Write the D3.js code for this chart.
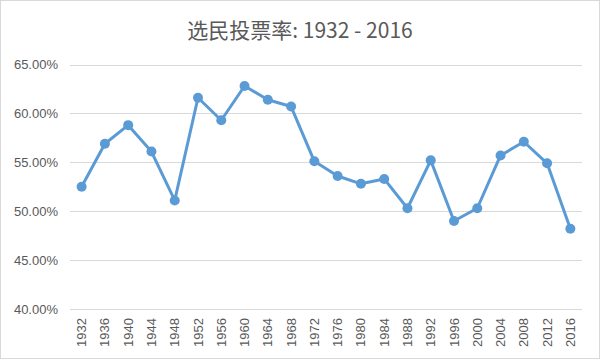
<!DOCTYPE html>
<html><head><meta charset="utf-8">
<script src="https://cdn.jsdelivr.net/npm/d3@7"></script>
<style>body{margin:0;background:#fff}svg{display:block}</style>
</head><body>
<script>
const years = ["1932","1936","1940","1944","1948","1952","1956","1960","1964","1968","1972","1976","1980","1984","1988","1992","1996","2000","2004","2008","2012","2016"];
const turnout = [52.5,56.9,58.8,56.1,51.1,61.6,59.3,62.8,61.4,60.7,55.1,53.6,52.8,53.3,50.3,55.2,49.0,50.3,55.7,57.1,54.9,48.2];
const yTicks = [40,45,50,55,60,65];
const title = "选民投票率: 1932 - 2016";

const W=600,H=361;
const svg=d3.select("body").append("svg").attr("width",W).attr("height",H);
svg.append("rect").attr("x",0.5).attr("y",0.5).attr("width",W-1).attr("height",H-3).attr("fill","#fff").attr("stroke","#d9d9d9");
const x=d3.scaleBand().domain(years).range([70,582]);
const y=d3.scaleLinear().domain([40,65]).range([309,64.5]);
const font="'Liberation Sans', Arial, sans-serif";
svg.append("g").selectAll("line").data(yTicks).join("line")
 .attr("x1",70).attr("x2",582).attr("y1",d=>Math.round(y(d))+0.5).attr("y2",d=>Math.round(y(d))+0.5)
 .attr("stroke","#d9d9d9").attr("stroke-width",1);
const ya=svg.append("g").attr("transform","translate(70,0)").call(d3.axisLeft(y).tickValues(yTicks).tickSize(0).tickPadding(12).tickFormat(d=>d.toFixed(2)+"%"));
ya.select(".domain").remove();
ya.selectAll("text").attr("fill","#595959").style("font-family",font).style("font-size","13px");
const xa=svg.append("g").attr("transform","translate(0,309)").call(d3.axisBottom(x).tickSize(0));
xa.select(".domain").remove();
xa.selectAll("text").attr("fill","#595959").style("font-family",font).style("font-size","13px")
 .attr("text-anchor","end").attr("dx","-9px").attr("dy","0.35em").attr("x",0).attr("y",0)
 .attr("transform","rotate(-90)");
const line=d3.line().x((d,i)=>x(years[i])+x.bandwidth()/2).y(d=>y(d));
svg.append("path").datum(turnout).attr("d",line).attr("fill","none").attr("stroke","#5b9bd5").attr("stroke-width",3).attr("stroke-linejoin","round");
svg.append("g").selectAll("circle").data(turnout).join("circle")
 .attr("cx",(d,i)=>x(years[i])+x.bandwidth()/2).attr("cy",d=>y(d)).attr("r",5).attr("fill","#5b9bd5");
svg.append("text").attr("x",300).attr("y",38).attr("text-anchor","middle").attr("fill","#595959")
 .style("font-family","'Noto Sans CJK SC', sans-serif").style("font-size","21px").text(title);
</script>
</body></html>
